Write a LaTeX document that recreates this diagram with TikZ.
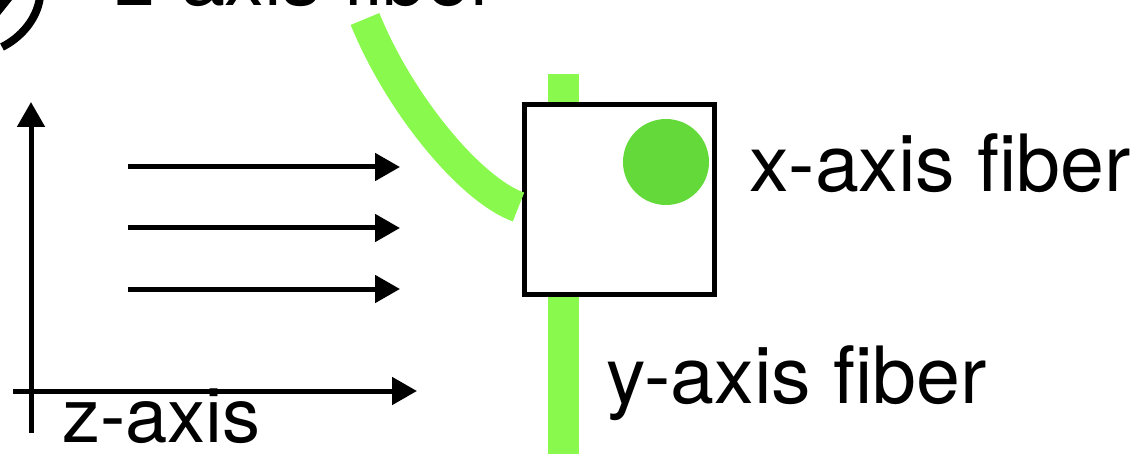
\documentclass[tikz,border=0pt]{standalone}
\usepackage{fontspec}
\setmainfont{TeX Gyre Heros}
\usetikzlibrary{arrows.meta}
\definecolor{fiber}{RGB}{138,249,77}
\definecolor{core}{RGB}{99,217,58}
\begin{document}
\begin{tikzpicture}[x=1pt,y=-1pt,
  arr/.style={line width=5pt,-{Triangle[length=25pt,width=27pt]}},
  lbl/.style={anchor=base west,inner sep=0,font=\fontsize{79}{90}\selectfont},
  fib/.style={draw=fiber,line width=31pt}]
\useasboundingbox (0,0) rectangle (1137,454);
\clip (0,0) rectangle (1137,454);
% axes
\coordinate (yb) at (31,433);
\coordinate (yt) at (31,102);
\coordinate (xa) at (13,391);
\coordinate (xb) at (417,391);
\draw[arr] (yb) -- (yt);
\draw[arr] (xa) -- (xb);
% beam arrows
\coordinate (b1s) at (128,167); \coordinate (b1e) at (400,167);
\coordinate (b2s) at (128,228); \coordinate (b2e) at (400,228);
\coordinate (b3s) at (128,289); \coordinate (b3e) at (400,289);
\draw[arr] (b1s) -- (b1e);
\draw[arr] (b2s) -- (b2e);
\draw[arr] (b3s) -- (b3e);
% y-axis fiber
\coordinate (yf1) at (563,74);
\coordinate (yf2) at (563,470);
\draw[fib] (yf1) -- (yf2);
% cell
\node[draw,fill=white,line width=5pt,minimum size=190pt,inner sep=0] (cell) at (619,199.5) {};
% x-axis fiber (core)
\node[circle,fill=core,minimum size=86pt,inner sep=0] (xf) at (666,162) {};
% z-axis fiber (curved)
\coordinate (zf0) at (365,19);
\draw[fib] (zf0) .. controls (400,105) and (471,190) .. ([xshift=-3pt,yshift=-7.5pt]cell.west);
% labels
\node[lbl] (xlab) at (749,192) {x-axis fiber};
\node[lbl] (ylab) at (606,403) {y-axis fiber};
\node[lbl,font=\fontsize{76}{90}\selectfont] (zlab) at (62,442) {z-axis};
\node[lbl] (zflab) at (115,6) {z-axis fiber};
% cropped panel label
\draw[line width=8pt] (40,-3) .. controls (37,20) and (20,38) .. (2,47);
\fill (0,0) -- (12,0) -- (0,15) -- cycle;
\end{tikzpicture}
\end{document}
